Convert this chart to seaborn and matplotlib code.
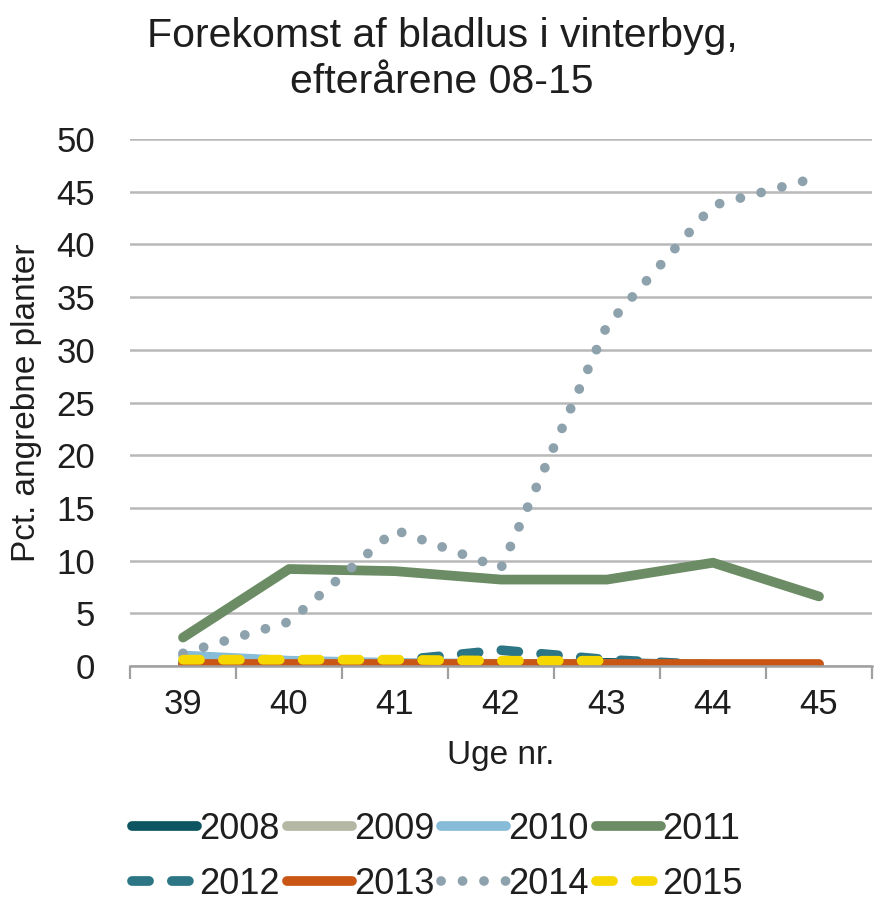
import numpy as np
import pandas as pd
import matplotlib
matplotlib.use("Agg")
import matplotlib.pyplot as plt
import seaborn as sns
from matplotlib.ticker import FixedLocator

weeks = [39, 40, 41, 42, 43, 44, 45]
y2008 = [0.0, 0.0, 0.0, 0.0, 0.3, 0.1, 0.0]
y2009 = [0.1, 0.1, 0.1, 0.1, 0.1, 0.1, 0.1]
y2010 = [1.0, 0.5, 0.3, 0.2, 0.2, 0.1, 0.1]
y2011 = [2.7, 9.2, 9.0, 8.2, 8.2, 9.8, 6.6]
y2012 = [0.4, 0.4, 0.5, 1.5, 0.6, 0.1, np.nan]
y2013 = [0.2, 0.2, 0.2, 0.2, 0.2, 0.2, 0.2]
y2014 = [1.2, 4.2, 12.9, 9.3, 32.3, 43.7, 46.4]
y2015 = [0.6, 0.6, 0.6, 0.5, 0.5, np.nan, np.nan]

series = {"2008": y2008, "2009": y2009, "2010": y2010, "2011": y2011,
          "2012": y2012, "2013": y2013, "2014": y2014, "2015": y2015}
colors = {"2008": "#0d5560", "2009": "#b4b7a3", "2010": "#86bcd8", "2011": "#6b8c64",
          "2012": "#2b7584", "2013": "#c95614", "2014": "#8ea2ad", "2015": "#f6d800"}
styles = {"2008": "-", "2009": "-", "2010": "-", "2011": "-",
          "2012": (0, (1.75, 2.35)), "2013": "-", "2014": (0, (0.01, 2.2)),
          "2015": (0, (1.75, 2.35))}
LW = 7.0

sns.set_theme(style="white")
plt.rcParams["font.family"] = ["Liberation Sans", "DejaVu Sans"]
TXT = "#1e1e1e"

fig = plt.figure(figsize=(8.74, 9.01), dpi=100)
ax = fig.add_axes([130 / 874, 1 - 666 / 901, 742 / 874, 527 / 901])

for name, vals in series.items():
    df = pd.DataFrame({"week": weeks, "val": vals}).dropna()
    sns.lineplot(data=df, x="week", y="val", ax=ax, color=colors[name],
                 linestyle=styles[name], linewidth=LW, label=name,
                 solid_capstyle="round", dash_capstyle="round")

ax.set_xlim(38.5, 45.5)
ax.set_ylim(0, 50)
ax.set_yticks(range(0, 51, 5))
ax.yaxis.grid(True, color="#b8b8b8", linewidth=1.8)
ax.set_axisbelow(True)
ax.set_xticks(weeks)
ax.set_xticklabels([str(w) for w in weeks])
ax.xaxis.set_minor_locator(FixedLocator([w + 0.5 for w in range(38, 46)]))
ax.tick_params(axis="x", which="major", length=0, labelsize=25, pad=16, labelcolor=TXT)
ax.tick_params(axis="x", which="minor", length=9, width=1.6, color="#a0a0a0", bottom=True)
ax.tick_params(axis="y", length=0, labelsize=25, pad=25, labelcolor=TXT)
for s in ["left", "right", "top"]:
    ax.spines[s].set_visible(False)
ax.spines["bottom"].set_color("#a0a0a0")
ax.spines["bottom"].set_linewidth(1.8)

ax.set_xlabel("Uge nr.", fontsize=24, color=TXT)
ax.xaxis.set_label_coords(0.5, -0.140)
ax.set_ylabel("Pct. angrebne planter", fontsize=24, color=TXT)
ax.yaxis.set_label_coords(-0.118, 0.5)

fig.text(442 / 874, 1 - 47 / 901, "Forekomst af bladlus i vinterbyg,", ha="center",
         va="baseline", fontsize=29.5, color=TXT)
fig.text(442 / 874, 1 - 93 / 901, "efterårene 08-15", ha="center",
         va="baseline", fontsize=29.5, color=TXT)

handles, labels = ax.get_legend_handles_labels()
order = [0, 4, 1, 5, 2, 6, 3, 7]
leg = ax.legend([handles[i] for i in order], [labels[i] for i in order],
                loc="center left", bbox_to_anchor=(0.003, -0.362), ncol=4, frameon=False,
                fontsize=26, handlelength=1.8, handletextpad=0.05, columnspacing=0.2,
                labelspacing=0.55, borderpad=0, borderaxespad=0)
for t in leg.get_texts():
    t.set_color(TXT)

fig.savefig("out.png", dpi=100)
